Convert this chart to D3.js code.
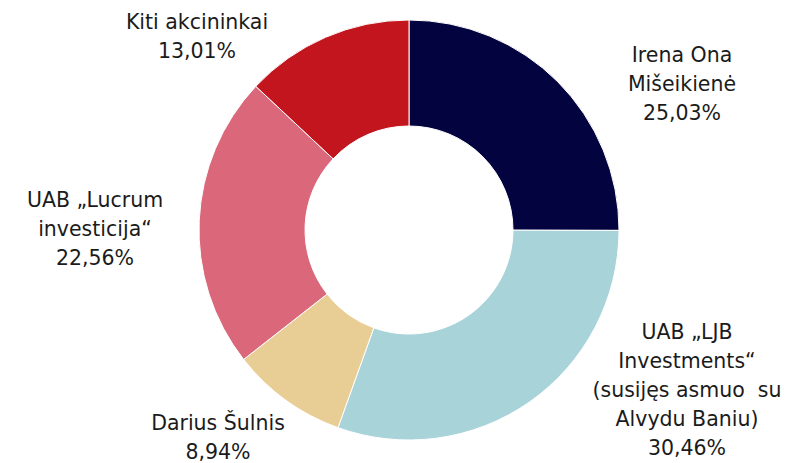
<!DOCTYPE html>
<html>
<head>
<meta charset="utf-8">
<script src="https://cdn.jsdelivr.net/npm/d3@7"></script>
<style>
  body { margin: 0; background: #fff; }
  text { font-family: "DejaVu Sans", Verdana, sans-serif; fill: #1b1b1b; white-space: pre; }
</style>
</head>
<body>
<div id="chart"></div>
<script>
// shareholders, clockwise from 12 o'clock
const owners = ["Irena Ona Mišeikienė", "UAB „LJB Investments“", "Darius Šulnis", "UAB „Lucrum investicija“", "Kiti akcininkai"];
const shares = [25.03, 30.46, 8.94, 22.56, 13.01];
const colors = ["#03043f", "#a8d3d9", "#e8cd94", "#da677a", "#c3151e"];
// label text lines (percent line is appended from shares)
const labelLines = [
    ["Irena Ona", "Mišeikienė"],
    ["UAB „LJB", "Investments“", "(susijęs asmuo  su", "Alvydu Baniu)"],
    ["Darius Šulnis"],
    ["UAB „Lucrum", "investicija“"],
    ["Kiti akcininkai"]
];

const width = 789, height = 463;
const cx = 409, cy = 230;
const outerR = 210, innerR = 104;
const lineH = 29;

// label anchors (center of first line), relative to svg
const labelPos = [
    {x: 682, y: 55},
    {x: 687, y: 332},
    {x: 218, y: 423},
    {x: 95, y: 200},
    {x: 197, y: 22}
];

const locale = d3.formatLocale({decimal: ",", thousands: " ", grouping: [3], currency: ["", ""]});
const fmt = v => locale.format(".2f")(v) + "%";

const svg = d3.select("#chart").append("svg")
    .attr("width", width)
    .attr("height", height);

const data = owners.map((o, i) => ({name: o, value: shares[i], color: colors[i], lines: labelLines[i], pos: labelPos[i]}));

const pie = d3.pie()
    .value(d => d.value)
    .sort(null);

const arc = d3.arc()
    .innerRadius(innerR)
    .outerRadius(outerR);

const g = svg.append("g")
    .attr("transform", "translate(" + cx + "," + cy + ")");

g.selectAll("path")
    .data(pie(data))
    .join("path")
    .attr("d", arc)
    .attr("fill", d => d.data.color)
    .attr("stroke", "#fff")
    .attr("stroke-width", 1);

// labels
const labels = svg.append("g")
    .selectAll("text")
    .data(data)
    .join("text")
    .attr("text-anchor", "middle")
    .attr("font-size", 20.5);

labels.selectAll("tspan")
    .data(d => d.lines.concat([fmt(d.value)]).map((t, i) => ({t: t, i: i, pos: d.pos})))
    .join("tspan")
    .attr("x", d => d.pos.x)
    .attr("y", d => d.pos.y + d.i * lineH)
    .attr("dy", "0.35em")
    .text(d => d.t);
</script>
</body>
</html>
